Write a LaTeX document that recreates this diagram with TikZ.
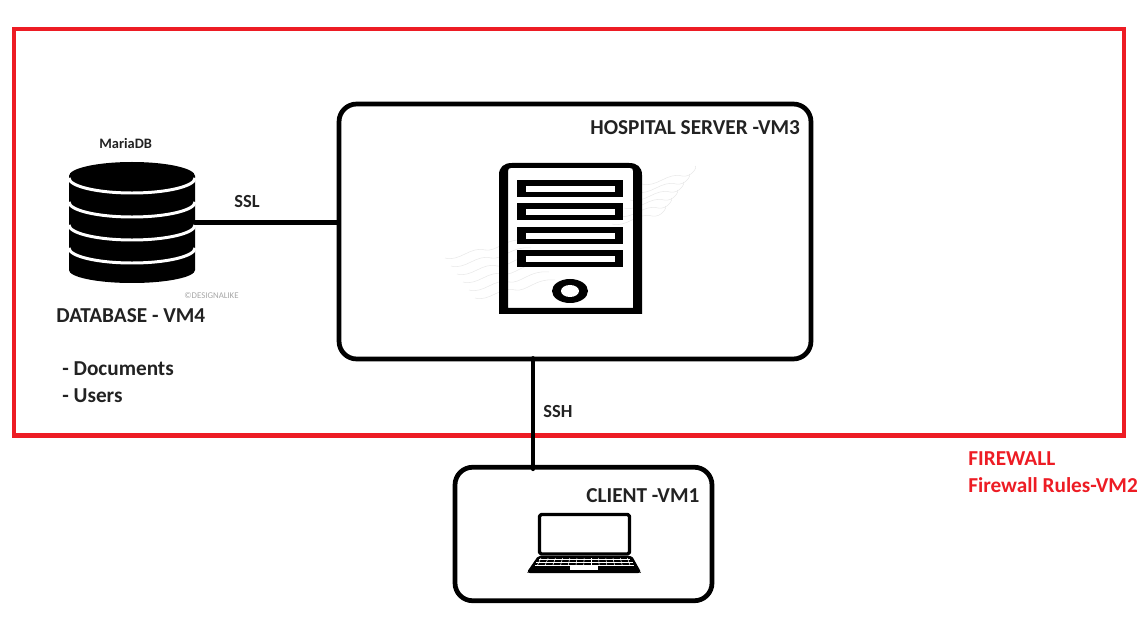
\documentclass[tikz,border=0pt]{standalone}
\usepackage{fontspec}
\setmainfont{Carlito}
\definecolor{fwred}{HTML}{ED1C24}
\definecolor{inktext}{HTML}{222222}
\tikzset{
  vmbox/.style={draw=black, line width=2.7pt, rounded corners=10pt, inner sep=0pt},
  link/.style={draw=black, line width=2.6pt, line cap=round},
  lbl/.style={anchor=base west, inner sep=0pt, font=\bfseries\fontsize{12.1}{14}\selectfont, text=inktext},
  linklbl/.style={lbl, font=\bfseries\fontsize{10.5}{12}\selectfont},
  smalllbl/.style={lbl, font=\bfseries\fontsize{8.2}{10}\selectfont},
  redlbl/.style={lbl, text=fwred},
  wave/.style={draw=black!9, line width=0.3pt}
}
\begin{document}
\begin{tikzpicture}[x=0.02cm, y=-0.02cm, line join=round]
  \useasboundingbox (0,0) rectangle (1147,628);

  % Firewall
  \draw[fwred, line width=2.7pt, line join=miter] (14,29) rectangle (1124,435.5);
  \node[redlbl] (fwtitle) at (968,465) {FIREWALL};
  \node[redlbl] (fwrules) at (968,492) {Firewall Rules-VM2};

  % Boxes
  \node[vmbox, minimum width=9.44cm, minimum height=5.1cm] (server) at (575,231.5) {};
  \node[vmbox, minimum width=5.14cm, minimum height=2.67cm] (client) at (583.5,534) {};
  \node[inner sep=0pt, minimum width=2.52cm, minimum height=2.42cm] (db) at (132,222.5) {};
  \node[lbl] (serverlbl) at (590,135) {HOSPITAL SERVER -VM3};
  \node[lbl] (clientlbl) at (586,502) {CLIENT -VM1};

  % Watermark
  \foreach \i in {0,...,5} {
    \draw[wave] (445+6*\i,258+8*\i) .. controls (460+6*\i,262+8*\i) and (470+6*\i,246+8*\i) .. (485+6*\i,250+8*\i)
      .. controls (497+6*\i,252+8*\i) and (505+6*\i,238+8*\i) .. (525+6*\i,240+8*\i);
    \draw[wave] (612+6*\i,224-8*\i) .. controls (627+6*\i,228-8*\i) and (637+6*\i,212-8*\i) .. (652+6*\i,216-8*\i)
      .. controls (662+6*\i,218-8*\i) and (668+6*\i,206-8*\i) .. (665+6*\i,206-8*\i);
  }

  % Database
  \fill[black] (69,176) -- (69,270) arc[start angle=180, end angle=0, x radius=63, y radius=13] -- (195,176) -- cycle;
  \fill[black] (132,176) ellipse (63 and 14);
  \foreach \y in {178,202,225,248} {
    \draw[white, line width=1.7pt] (69,\y) arc[start angle=180, end angle=0, x radius=63, y radius=15];
  }
  \node[smalllbl] (dbname) at (99,149) {MariaDB};
  \node[lbl] (dblbl) at (56,323) {DATABASE - VM4};
  \node[lbl] (docs) at (62,376) {- Documents};
  \node[lbl] (users) at (62,402) {- Users};
  \node[anchor=west, inner sep=0pt, font=\fontsize{5}{6}\selectfont, text=black!35] (credit) at (184,296) {©DESIGNALIKE};

  % Server icon
  \fill[black, even odd rule] (499,314) -- (499,175) .. controls (499,167) and (504,163) .. (512,163)
    -- (629,163) .. controls (637,163) and (642,167) .. (642,175) -- (642,314) -- cycle
    (508,308) -- (508,171) .. controls (508,169) and (509,168) .. (511,168)
    -- (630,168) .. controls (632,168) and (633,169) .. (633,171) -- (633,308) -- cycle;
  \foreach \y in {180,203,227,250} {
    \fill[black] (517,\y) rectangle (623,\y+17);
    \fill[white] (526,\y+6) rectangle (615,\y+12);
  }
  \fill[black] (570,291) ellipse (18 and 12);
  \fill[white] (570,291) ellipse (9 and 6);

  % Laptop icon
  \draw[line width=1.9pt, rounded corners=1pt] (539.5,554) -- (539.5,514.5) -- (629.5,514.5) -- (629.5,554) -- cycle;
  \fill[black, rounded corners=1pt] (538,556) -- (632,556) -- (641,572) -- (640,573) -- (528,573) -- (527,572) -- cycle;
  \foreach \i in {0,...,12} {
    \draw[white, line width=0.3pt] (541+7.2*\i,558) -- (537.5+7.7*\i,565);
  }
  \draw[white, line width=0.4pt] (539,559.5) -- (630,559.5) (536,562.5) -- (633,562.5) (535,565) -- (634,565);
  \fill[white] (570,566) rectangle (598,570);

  % Connectors
  \coordinate (sshport) at (533,0);
  \draw[link] (db.east) -- (db.east -| server.west);
  \draw[link] ([yshift=0.06cm]server.south -| sshport) -- ([yshift=-0.08cm]client.north -| sshport);
  \node[linklbl] (ssl) at (234,208) {SSL};
  \node[linklbl] (ssh) at (543,418) {SSH};
\end{tikzpicture}
\end{document}
